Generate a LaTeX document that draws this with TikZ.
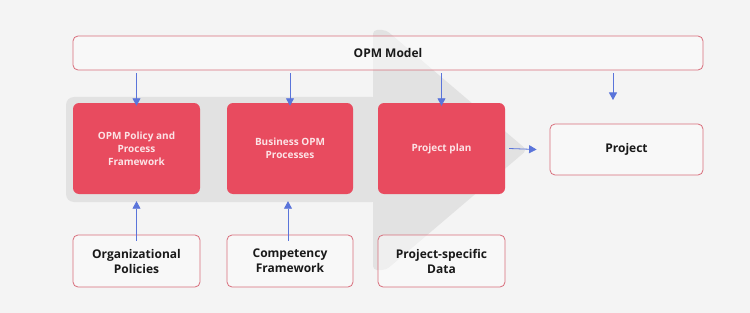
\documentclass[tikz,border=0pt]{standalone}
\usepackage{fontspec}
\setmainfont{Open Sans}
\usetikzlibrary{arrows.meta}
\begin{document}
\begin{tikzpicture}[x=1pt,y=-1pt,
  bg/.style={fill=bgcol},
  outbox/.style={draw=boxline,line width=0.8pt,fill=white,fill opacity=0.45,text opacity=1,rounded corners=5pt,text=black!90,font=\fontsize{12}{15}\selectfont\bfseries,align=center,inner sep=0pt},
  redbox/.style={fill=redfill,rounded corners=6pt,text=redtext,font=\fontsize{10}{13}\selectfont\bfseries,align=center,inner sep=0pt},
  conn/.style={draw=arrowcol,line width=0.8pt,-{Triangle[length=7.5pt,width=8pt]}}]
\definecolor{bgcol}{HTML}{F4F4F4}
\definecolor{arrowgrey}{HTML}{E2E2E2}
\definecolor{boxline}{HTML}{D86E7B}
\definecolor{redfill}{HTML}{E84B5F}
\definecolor{redtext}{HTML}{FCE3E6}
\definecolor{arrowcol}{HTML}{5A74DA}
\useasboundingbox[bg] (0,0) rectangle (750,313);
% big grey arrow
\fill[arrowgrey,rounded corners=8pt] (66,97) rectangle (380,202);
\fill[arrowgrey,rounded corners=4pt] (373,30) -- (386,30) -- (527,150) -- (386,270) -- (373,270) -- cycle;
% nodes
\node[outbox,minimum width=630pt,minimum height=34pt] (opm) at (388,53) {OPM Model};
\node[redbox,minimum width=127pt,minimum height=91pt] (r1) at (136.5,148.5) {OPM Policy and\\Process\\Framework};
\node[redbox,minimum width=126pt,minimum height=91pt] (r2) at (290,148.5) {Business OPM\\Processes};
\node[redbox,minimum width=127pt,minimum height=91pt] (r3) at (441.5,148.5) {Project plan};
\node[outbox,minimum width=153pt,minimum height=51pt] (proj) at (626.5,149.5) {Project};
\node[outbox,minimum width=127pt,minimum height=52pt] (b1) at (136.5,261) {Organizational\\Policies};
\node[outbox,minimum width=126pt,minimum height=52pt] (b2) at (290,261) {Competency\\Framework};
\node[outbox,minimum width=127pt,minimum height=52pt] (b3) at (441.5,261) {Project-specific\\Data};
\coordinate (pt) at (613,100);
% connectors
\draw[conn] (opm.south -| r1.north) ++(0,3) -- ([yshift=-3pt]r1.north);
\draw[conn] (opm.south -| r2.north) ++(0,3) -- ([yshift=-3pt]r2.north);
\draw[conn] (opm.south -| r3.north) ++(0,3) -- ([yshift=-3pt]r3.north);
\draw[conn] (opm.south -| pt) ++(0,3) -- (pt);
\draw[conn] ([yshift=-6pt]b1.north) -- ([yshift=-7pt]r1.south);
\draw[conn] ([xshift=-2pt,yshift=-6pt]b2.north) -- ([xshift=-2pt,yshift=-7pt]r2.south);
\draw[conn] ([xshift=4pt]r3.east) -- ([xshift=-13pt]proj.west);
\end{tikzpicture}
\end{document}
